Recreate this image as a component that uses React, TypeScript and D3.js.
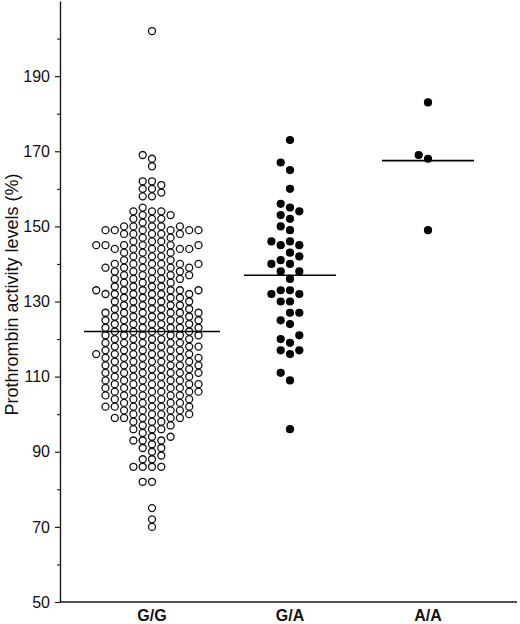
import { useRef, useEffect } from 'react';
import * as d3 from 'd3';

// genotype groups
const categories = ['G/G', 'G/A', 'A/A'];

// G/G: [value, number of subjects] read from the dot cloud
const ggCounts: [number, number][] = [
  [202, 1],
  [169, 1], [168, 1], [166, 1],
  [162, 2], [161, 1], [160, 2], [159, 1], [158, 2],
  [155, 1],
  [154, 3], [153, 2], [152, 3], [151, 1],
  [150, 5], [149, 6], [148, 5], [147, 2], [146, 3],
  [145, 6], [144, 6], [143, 3], [142, 3], [141, 3],
  [140, 6], [139, 5], [138, 5], [137, 4], [136, 5], [135, 3], [134, 4],
  [133, 6], [132, 6], [131, 4], [130, 5],
  [129, 4], [128, 5], [127, 6], [126, 5], [125, 6], [124, 5], [123, 6], [122, 5], [121, 6], [120, 5],
  [119, 5], [118, 6], [117, 5], [116, 6], [115, 6], [114, 5], [113, 6], [112, 5], [111, 6], [110, 5],
  [109, 5], [108, 6], [107, 5], [106, 6], [105, 5], [104, 5], [103, 4], [102, 6], [101, 4], [100, 4],
  [99, 5], [98, 3], [97, 2], [96, 3], [95, 1], [94, 2], [93, 3], [92, 1], [91, 2], [90, 1],
  [89, 1], [88, 2], [86, 4], [82, 2], [75, 1], [72, 1], [70, 1],
];

const gaValues = [
  173, 167, 165, 160, 156, 155, 154, 153, 152, 150,
  149, 146, 146, 145, 145, 143, 142, 141, 140, 140,
  138, 138, 136, 133, 133, 132, 132, 130, 130, 127,
  127, 125, 124, 121, 120, 119, 117, 117, 116, 111,
  109, 96,
];

const aaValues = [183, 169, 168, 149];

// group means (horizontal bars)
const means = [122, 137, 167.5];

const yTicks = [50, 70, 90, 110, 130, 150, 170, 190];
const yMinorTicks = [60, 80, 100, 120, 140, 160, 180, 200];

const FONT = '"Liberation Sans", Arial, sans-serif';

type Pt = { x: number; y: number };

// simple column swarm: each point goes to the slot nearest the centre that is free
function swarm(values: number[], cx: number, y: (v: number) => number, step: number, minDist: number): Pt[] {
  const placed: Pt[] = [];
  const sorted = [...values].sort((a, b) => a - b);
  sorted.forEach(v => {
    const yy = y(v);
    for (let i = 0; i < 60; i++) {
      const k = i === 0 ? 0 : (i % 2 === 1 ? -Math.ceil(i / 2) : Math.ceil(i / 2));
      const xx = cx + k * step;
      const hit = placed.some(p => Math.abs(p.y - yy) < minDist && Math.hypot(p.x - xx, p.y - yy) < minDist);
      if (!hit) {
        placed.push({ x: xx, y: yy });
        break;
      }
    }
  });
  return placed;
}

export default function App() {
  const svgRef = useRef<SVGSVGElement | null>(null);

  useEffect(() => {
    const svg = d3.select(svgRef.current);
    svg.selectAll('*').remove();

    const width = 520;
    const height = 624;
    const axisX = 60;
    const axisY = 602;

    const x = d3.scalePoint<string>().domain(categories).range([axisX, 520]).padding(2 / 3);
    const y = d3.scaleLinear().domain([50, 210]).range([axisY, 1]);

    const g = svg.append('g');

    // y axis, major ticks with labels
    const yAxis = g.append('g')
      .attr('transform', `translate(${axisX},0)`)
      .call(d3.axisLeft(y).tickValues(yTicks).tickSize(5).tickSizeOuter(0).tickPadding(5));
    yAxis.select('.domain').attr('stroke', '#1a1a1a').attr('stroke-width', 1.4);
    yAxis.selectAll('.tick line').attr('stroke', '#1a1a1a').attr('stroke-width', 1.2);
    yAxis.selectAll('.tick text')
      .style('font-family', FONT)
      .style('font-size', '16px')
      .attr('fill', '#111');

    // minor ticks
    const yMinor = g.append('g')
      .attr('transform', `translate(${axisX},0)`)
      .call(d3.axisLeft(y).tickValues(yMinorTicks).tickSize(3).tickFormat(() => ''));
    yMinor.select('.domain').remove();
    yMinor.selectAll('.tick line').attr('stroke', '#1a1a1a').attr('stroke-width', 1.1);

    // x axis line
    g.append('line')
      .attr('x1', axisX).attr('x2', 517)
      .attr('y1', axisY).attr('y2', axisY)
      .attr('stroke', '#1a1a1a')
      .attr('stroke-width', 1.4);

    // category labels
    g.selectAll('.cat')
      .data(categories)
      .enter()
      .append('text')
      .attr('class', 'cat')
      .attr('x', d => x(d) as number)
      .attr('y', 621)
      .attr('text-anchor', 'middle')
      .style('font-family', FONT)
      .style('font-size', '16px')
      .style('font-weight', 'bold')
      .attr('fill', '#111')
      .text(d => d);

    // y axis title
    g.append('text')
      .attr('transform', `translate(18, ${y(130) - 7}) rotate(-90)`)
      .attr('text-anchor', 'middle')
      .style('font-family', FONT)
      .style('font-size', '18px')
      .attr('fill', '#111')
      .text('Prothrombin activity levels (%)');

    // dots
    const ggValues: number[] = [];
    ggCounts.forEach(([v, n]) => { for (let i = 0; i < n; i++) ggValues.push(v); });

    const ggPts = swarm(ggValues, x('G/G') as number, y, 9.3, 7);
    const gaPts = swarm(gaValues, x('G/A') as number, y, 9.3, 8);
    const aaPts = swarm(aaValues, x('A/A') as number, y, 9.3, 8);

    g.selectAll('.gg')
      .data(ggPts)
      .enter()
      .append('circle')
      .attr('class', 'gg')
      .attr('cx', d => d.x)
      .attr('cy', d => d.y)
      .attr('r', 3.5)
      .attr('fill', 'white')
      .attr('stroke', '#111')
      .attr('stroke-width', 1.3);

    g.selectAll('.ga')
      .data([...gaPts, ...aaPts])
      .enter()
      .append('circle')
      .attr('class', 'ga')
      .attr('cx', d => d.x)
      .attr('cy', d => d.y)
      .attr('r', 4.1)
      .attr('fill', '#000');

    // mean bars
    const halfWidths = [68, 46, 46];
    g.selectAll('.mean')
      .data(categories)
      .enter()
      .append('line')
      .attr('class', 'mean')
      .attr('x1', (d, i) => (x(d) as number) - halfWidths[i])
      .attr('x2', (d, i) => (x(d) as number) + halfWidths[i])
      .attr('y1', (d, i) => y(means[i]))
      .attr('y2', (d, i) => y(means[i]))
      .attr('stroke', '#000')
      .attr('stroke-width', 1.6);

    svg.attr('width', width).attr('height', height);
  }, []);

  return (
    <svg
      ref={svgRef}
      width={520}
      height={624}
      style={{ position: 'absolute', left: 0, top: 0, background: 'white' }}
    />
  );
}
